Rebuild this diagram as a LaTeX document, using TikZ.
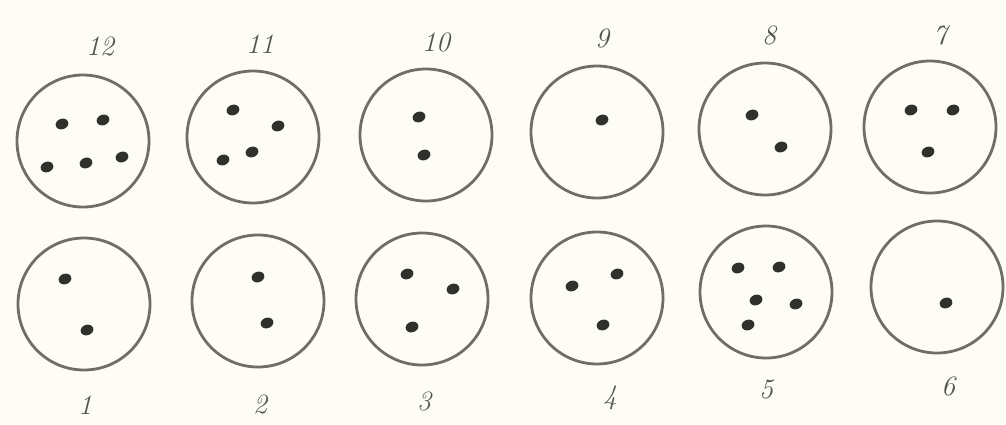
\documentclass[tikz,border=0pt]{standalone}
\usetikzlibrary{shapes.geometric}
\definecolor{bg}{RGB}{253,253,246}
\definecolor{ring}{RGB}{110,110,102}
\definecolor{dotc}{RGB}{48,48,44}
\definecolor{lab}{RGB}{85,85,80}
\tikzset{
  disk/.style={circle,draw=ring,line width=2.8pt,minimum size=132pt,inner sep=0pt},
  spot/.style={ellipse,fill=dotc,minimum width=13pt,minimum height=10.5pt,inner sep=0pt,rotate=20},
  num/.style={text=lab,font=\fontsize{28}{28}\selectfont\itshape,inner sep=0pt}
}
\begin{document}
\begin{tikzpicture}[x=1pt,y=-1pt]
\fill[bg] (0,0) rectangle (1006,424);
\useasboundingbox (0,0) rectangle (1006,424);
% top row
\node[disk] (c12) at (83,141) {};
\node[disk] (c11) at (253,137) {};
\node[disk] (c10) at (426,135) {};
\node[disk] (c9) at (597,132) {};
\node[disk] (c8) at (765,129) {};
\node[disk] (c7) at (930,127) {};
% bottom row
\node[disk] (c1) at (84,304) {};
\node[disk] (c2) at (258,301) {};
\node[disk] (c3) at (422,299) {};
\node[disk] (c4) at (597,298) {};
\node[disk] (c5) at (766,292) {};
\node[disk] (c6) at (937,287) {};
% labels
\node[num] (l12) at (100,46) {12};
\node[num] (l11) at (260,44) {11};
\node[num] (l10) at (436,42) {10};
\node[num] (l9) at (602,38) {9};
\node[num] (l8) at (769,35) {8};
\node[num] (l7) at (940,35) {7};
\node[num] (l1) at (85,405) {1};
\node[num] (l2) at (260,404) {2};
\node[num] (l3) at (424,401) {3};
\node[num] (l4) at (610,398) {4};
\node[num] (l5) at (766,389) {5};
\node[num] (l6) at (948,386) {6};
% dots
\node[spot] (d12a) at (62,124) {};
\node[spot] (d12b) at (103,120) {};
\node[spot] (d12c) at (47,167) {};
\node[spot] (d12d) at (86,163) {};
\node[spot] (d12e) at (122,157) {};
\node[spot] (d11a) at (233,110) {};
\node[spot] (d11b) at (278,126) {};
\node[spot] (d11c) at (252,152) {};
\node[spot] (d11d) at (223,160) {};
\node[spot] (d10a) at (419,117) {};
\node[spot] (d10b) at (424,155) {};
\node[spot] (d9a) at (602,120) {};
\node[spot] (d8a) at (752,115) {};
\node[spot] (d8b) at (781,147) {};
\node[spot] (d7a) at (911,110) {};
\node[spot] (d7b) at (953,110) {};
\node[spot] (d7c) at (928,152) {};
\node[spot] (d1a) at (65,279) {};
\node[spot] (d1b) at (87,330) {};
\node[spot] (d2a) at (258,277) {};
\node[spot] (d2b) at (267,323) {};
\node[spot] (d3a) at (407,274) {};
\node[spot] (d3b) at (453,289) {};
\node[spot] (d3c) at (412,327) {};
\node[spot] (d4a) at (572,286) {};
\node[spot] (d4b) at (617,274) {};
\node[spot] (d4c) at (603,325) {};
\node[spot] (d5a) at (738,268) {};
\node[spot] (d5b) at (779,267) {};
\node[spot] (d5c) at (756,300) {};
\node[spot] (d5d) at (796,304) {};
\node[spot] (d5e) at (748,325) {};
\node[spot] (d6a) at (946,303) {};
\end{tikzpicture}
\end{document}
